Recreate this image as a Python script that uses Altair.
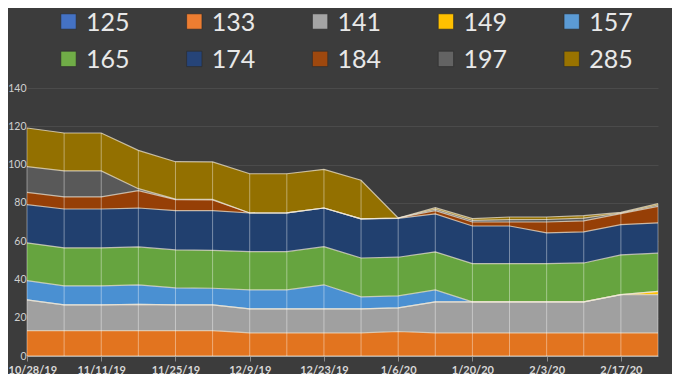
import altair as alt
import pandas as pd

dates = ["10/28/19", "11/4/19", "11/11/19", "11/18/19", "11/25/19", "12/2/19",
         "12/9/19", "12/16/19", "12/23/19", "12/30/19", "1/6/20", "1/13/20",
         "1/20/20", "1/27/20", "2/3/20", "2/10/20", "2/17/20", "2/24/20"]
tick_labels = ["10/28/19", "11/11/19", "11/25/19", "12/9/19", "12/23/19",
               "1/6/20", "1/20/20", "2/3/20", "2/17/20"]
y_ticks = [0, 20, 40, 60, 80, 100, 120, 140]

series_names = ["125", "133", "141", "149", "157", "165", "174", "184", "197", "285"]
area_colors = ["#4472c4", "#e2741f", "#a0a0a0", "#ffc000", "#4a90d2",
               "#66a43f", "#21406f", "#963f06", "#595959", "#937000"]
legend_colors = ["#4472c4", "#ed7d31", "#a5a5a5", "#ffc000", "#5b9bd5",
                 "#70ad47", "#264478", "#9e480e", "#636363", "#997300"]

s125 = [0, 0, 0, 0, 0, 0, 0, 0, 0, 0, 0, 0, 0, 0, 0, 0, 0, 0]
s133 = [13.3, 13.3, 13.3, 13.3, 13.3, 13.3, 12.1, 12.1, 12.1, 12.1, 12.8, 12.1, 12.1, 12.1, 12.1, 12.1, 12.1, 12.1]
s141 = [16.0, 13.4, 13.4, 13.7, 13.4, 13.4, 12.5, 12.5, 12.5, 12.5, 12.3, 16.2, 16.2, 16.2, 16.2, 16.2, 20.0, 20.0]
s149 = [0, 0, 0, 0, 0, 0, 0, 0, 0, 0, 0, 0, 0, 0, 0, 0, 0, 1.7]
s157 = [10.1, 9.9, 9.9, 10.2, 8.9, 8.7, 9.9, 9.9, 12.6, 6.3, 6.3, 6.2, 0, 0, 0, 0, 0, 0]
s165 = [19.7, 19.9, 19.9, 19.8, 19.8, 19.8, 20.0, 20.0, 19.9, 20.3, 20.2, 19.9, 20.0, 20.0, 20.0, 20.3, 20.7, 19.9]
s174 = [20.0, 20.3, 20.3, 20.3, 20.5, 20.7, 20.2, 20.3, 20.2, 20.4, 20.3, 19.8, 19.6, 19.6, 16.0, 16.2, 15.8, 15.8]
s184 = [6.4, 6.3, 6.3, 9.1, 5.8, 5.6, 0, 0, 0, 0, 0.2, 1.7, 2.1, 2.1, 5.7, 5.8, 5.8, 8.7]
s197 = [13.4, 13.6, 13.6, 1.0, 0.3, 0.3, 0, 0, 0, 0, 0, 0.8, 0.9, 1.2, 1.3, 1.4, 0.3, 0.7]
s285 = [20.2, 19.8, 19.8, 20.0, 19.5, 19.6, 20.5, 20.4, 20.2, 20.2, 0, 0.8, 0.9, 1.4, 1.3, 1.3, 0.3, 0.7]

all_series = [s125, s133, s141, s149, s157, s165, s174, s184, s197, s285]

rows = []
for k, (name, vals) in enumerate(zip(series_names, all_series)):
    for d, v in zip(dates, vals):
        rows.append({"date": d, "series": name, "order": k, "value": v})
df = pd.DataFrame(rows)

legend_df = pd.DataFrame({"series": series_names, "idx": list(range(len(series_names)))})

FONT = "Lato"

x_axis = alt.Axis(values=tick_labels, labelAngle=0, title=None,
                  labelFont=FONT, labelFontWeight="bold", labelFontSize=11,
                  labelColor="#d9d9d9", tickColor="#8a8a8a",
                  domainColor="#8a8a8a", tickSize=5, labelPadding=3,
                  grid=False, labelFlush=1, labelFlushOffset=19,
                  labelOverlap=False)
x_scale = alt.Scale(type="point", padding=0)
y_scale = alt.Scale(domain=[0, 140], nice=False, zero=True)
y_axis = alt.Axis(values=y_ticks, title=None, domain=False, ticks=False,
                  labelPadding=1, labelFont=FONT, labelFontSize=10.5,
                  labelColor="#d0d0d0", gridColor="#4b4b4b", gridWidth=1,
                  labelOverlap=False, tickCount=8)


def xenc():
    return alt.X("date:O", sort=dates, scale=x_scale, axis=x_axis)


def yenc(field):
    return alt.Y(field, scale=y_scale, axis=y_axis)


base = alt.Chart(df).transform_stack(
    stack="value", groupby=["date"], as_=["y0", "y1"],
    sort=[alt.SortField("order", order="ascending")]
)

areas = base.mark_area(opacity=1).encode(
    x=xenc(),
    y=yenc("y1:Q"),
    y2="y0:Q",
    color=alt.Color("series:N", scale=alt.Scale(domain=series_names, range=area_colors),
                    legend=None),
)

lines = base.mark_line(strokeWidth=1.2, color="#f2ead8", opacity=0.7).encode(
    x=xenc(),
    y=yenc("y1:Q"),
    detail="series:N",
)

drops = alt.Chart(df).transform_aggregate(
    total="sum(value)", groupby=["date"]
).mark_rule(color="#ffffff", opacity=0.4, strokeWidth=1).encode(
    x=xenc(),
    y=yenc("total:Q"),
    y2=alt.datum(0),
)

legend_base = alt.Chart(legend_df).transform_calculate(
    col="datum.idx % 5",
    row="floor(datum.idx / 5)",
).transform_calculate(
    sx="41.5 + datum.col * 125.8",
    sy="-66.5 + datum.row * 37.4",
    tx="59 + datum.col * 125.8",
    ty="-57.3 + datum.row * 37.4",
)

legend_sq = legend_base.mark_square(size=235, opacity=1, stroke="#2a2a2a",
                                    strokeWidth=0.6).encode(
    x=alt.X("sx:Q", scale=None, axis=None),
    y=alt.Y("sy:Q", scale=None, axis=None),
    color=alt.Color("series:N", scale=alt.Scale(domain=series_names, range=legend_colors),
                    legend=None),
)

legend_txt = legend_base.mark_text(align="left", baseline="alphabetic", font=FONT,
                                   fontSize=25, color="#e8e8e8").encode(
    x=alt.X("tx:Q", scale=None, axis=None),
    y=alt.Y("ty:Q", scale=None, axis=None),
    text="series:N",
)

plot = alt.layer(areas, lines, drops)
legend = alt.layer(legend_sq, legend_txt).resolve_scale(color="independent")

chart = alt.layer(plot, legend).resolve_scale(
    x="independent", y="independent", color="independent"
).properties(
    width=631, height=268,
    background="#3c3c3c",
    padding={"left": 19, "top": 80, "right": 14, "bottom": 18},
    autosize=alt.AutoSizeParams(type="none"),
).configure_view(stroke=None)

chart.save("out.html", embed_options={"renderer": "svg", "actions": False})
